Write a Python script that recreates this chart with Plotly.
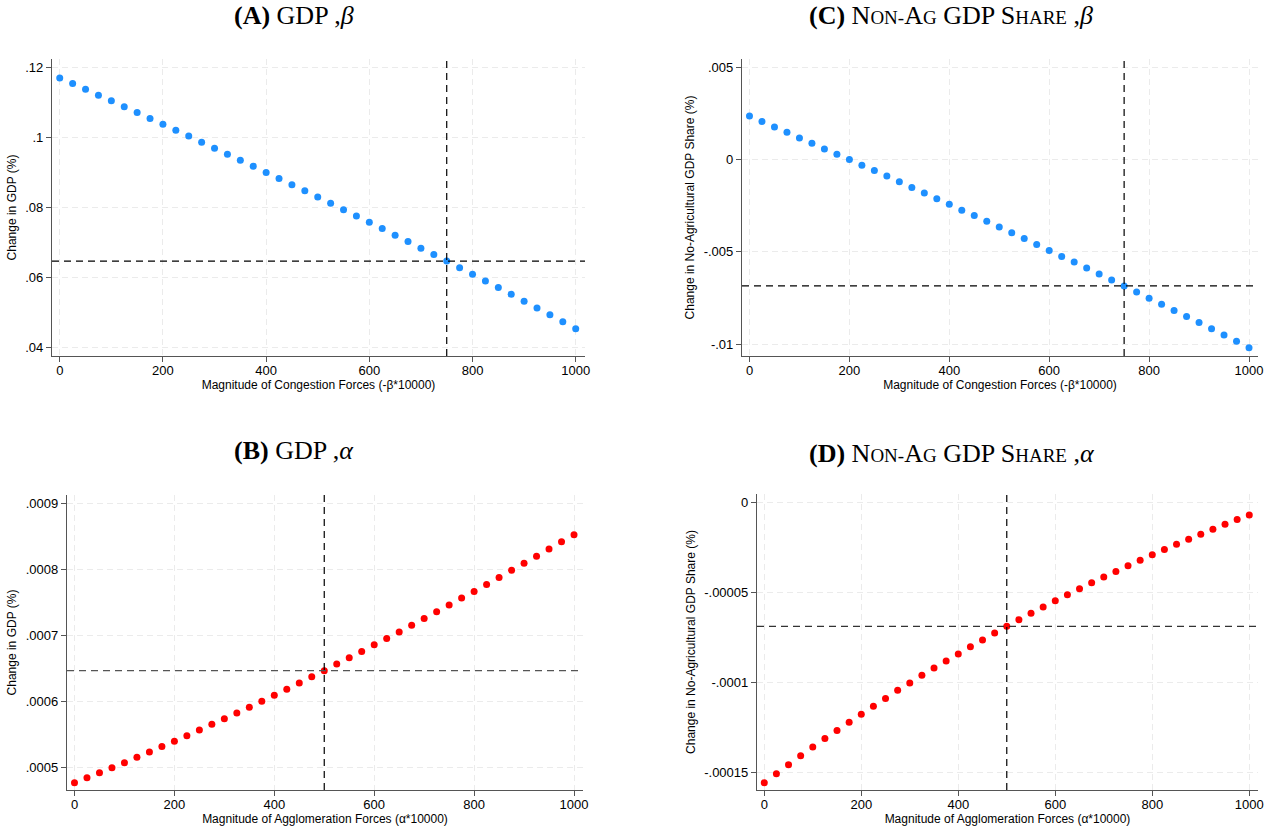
import plotly.graph_objects as go

# ---------------- data ----------------
x_vals = [0, 25, 50, 75, 100, 125, 150, 175, 200, 225, 250, 275, 300, 325, 350, 375, 400,
          425, 450, 475, 500, 525, 550, 575, 600, 625, 650, 675, 700, 725, 750, 775, 800,
          825, 850, 875, 900, 925, 950, 975, 1000]

gdp_beta = [0.11697, 0.11536, 0.11375, 0.11205, 0.11044, 0.10873, 0.10712, 0.10542,
            0.10372, 0.10201, 0.10040, 0.09860, 0.09690, 0.09520, 0.09349, 0.09179,
            0.08999, 0.08829, 0.08649, 0.08478, 0.08298, 0.08119, 0.07939, 0.07759,
            0.07579, 0.07399, 0.07210, 0.07030, 0.06840, 0.06661, 0.06471, 0.06282,
            0.06093, 0.05903, 0.05714, 0.05525, 0.05326, 0.05136, 0.04938, 0.04739,
            0.04540]

nonag_beta = [0.002356, 0.002068, 0.001763, 0.001475, 0.001169, 0.000881, 0.000575,
              0.000288, 0.000000, -0.000306, -0.000594, -0.000899, -0.001205, -0.001511,
              -0.001817, -0.002122, -0.002428, -0.002752, -0.003040, -0.003345, -0.003651,
              -0.003975, -0.004281, -0.004605, -0.004928, -0.005252, -0.005558, -0.005882,
              -0.006205, -0.006529, -0.006853, -0.007176, -0.007518, -0.007842, -0.008184,
              -0.008508, -0.008831, -0.009173, -0.009515, -0.009856, -0.010198]

gdp_alpha = [0.00047691, 0.00048444, 0.00049197, 0.00049950, 0.00050703, 0.00051556,
             0.00052359, 0.00053162, 0.00053965, 0.00054818, 0.00055671, 0.00056525,
             0.00057378, 0.00058231, 0.00059134, 0.00060038, 0.00060941, 0.00061845,
             0.00062798, 0.00063752, 0.00064655, 0.00065659, 0.00066612, 0.00067566,
             0.00068570, 0.00069523, 0.00070527, 0.00071531, 0.00072535, 0.00073589,
             0.00074592, 0.00075646, 0.00076650, 0.00077704, 0.00078758, 0.00079862,
             0.00080916, 0.00081970, 0.00083074, 0.00084178, 0.00085232]

nonag_alpha = [-1.5553e-4, -1.5055e-4, -1.4557e-4, -1.4059e-4, -1.3579e-4, -1.3100e-4,
               -1.2657e-4, -1.2195e-4, -1.1753e-4, -1.1310e-4, -1.0886e-4, -1.0424e-4,
               -1.0018e-4, -9.594e-5, -9.188e-5, -8.801e-5, -8.413e-5, -8.007e-5,
               -7.638e-5, -7.251e-5, -6.882e-5, -6.513e-5, -6.162e-5, -5.812e-5,
               -5.461e-5, -5.129e-5, -4.797e-5, -4.465e-5, -4.151e-5, -3.838e-5,
               -3.524e-5, -3.210e-5, -2.915e-5, -2.620e-5, -2.325e-5, -2.048e-5,
               -1.771e-5, -1.494e-5, -1.218e-5, -9.59e-6, -7.01e-6]

ref_beta = 750
ref_alpha = 500

x_ticks = [0, 200, 400, 600, 800, 1000]
x_tick_labels = ["0", "200", "400", "600", "800", "1000"]

gdp_beta_ticks = [0.04, 0.06, 0.08, 0.10, 0.12]
gdp_beta_labels = [".04", ".06", ".08", ".1", ".12"]
nonag_beta_ticks = [-0.01, -0.005, 0, 0.005]
nonag_beta_labels = ["-.01", "-.005", "0", ".005"]
gdp_alpha_ticks = [0.0005, 0.0006, 0.0007, 0.0008, 0.0009]
gdp_alpha_labels = [".0005", ".0006", ".0007", ".0008", ".0009"]
nonag_alpha_ticks = [-0.00015, -0.0001, -0.00005, 0]
nonag_alpha_labels = ["-.00015", "-.0001", "-.00005", "0"]

SANS = "Liberation Sans, Arial, sans-serif"
SERIF = "Liberation Serif, Times New Roman, serif"
BLUE = "#1E90FF"
RED = "#FF0000"

def sc(word, small=19):
    """small caps: first letter big, rest small uppercase"""
    return word[0] + '<span style="font-size:%dpx">%s</span>' % (small, word[1:].upper())

title_ag = sc("Non") + '<span style="font-size:19px">-</span>' + "A" + \
    '<span style="font-size:19px">G</span>' + " GDP " + sc("Share")

panels = [
    dict(y=gdp_beta, color=BLUE, ref=ref_beta,
         xdom=[52/1265, 585/1265], ydom=[1-356/831, 1-59/831],
         xr=[-15, 1018], yr=[0.03763, 0.12237],
         yt=gdp_beta_ticks, yl=gdp_beta_labels,
         ytitle="Change in GDP (%)",
         xtitle="Magnitude of Congestion Forces (-β*10000)",
         title="<b>(A)</b> GDP ,<i>β</i>", tx=294/1265, ty=1-15/831, hcol="#000000"),
    dict(y=nonag_beta, color=BLUE, ref=ref_beta,
         xdom=[742/1265, 1258/1265], ydom=[1-356/831, 1-59/831],
         xr=[-15, 1018], yr=[-0.01065, 0.00545],
         yt=nonag_beta_ticks, yl=nonag_beta_labels,
         ytitle="Change in No-Agricultural GDP Share (%)",
         xtitle="Magnitude of Congestion Forces (-β*10000)",
         title="<b>(C)</b> " + title_ag + " ,<i>β</i>", tx=951/1265, ty=1-15/831, hcol="#000000"),
    dict(y=gdp_alpha, color=RED, ref=ref_alpha,
         xdom=[67/1265, 583/1265], ydom=[1-790/831, 1-495/831],
         xr=[-15, 1018], yr=[0.0004659, 0.0009125],
         yt=gdp_alpha_ticks, yl=gdp_alpha_labels,
         ytitle="Change in GDP (%)",
         xtitle="Magnitude of Agglomeration Forces (α*10000)",
         title="<b>(B)</b> GDP ,<i>α</i>", tx=294/1265, ty=1-450/831, hcol="#555555"),
    dict(y=nonag_alpha, color=RED, ref=ref_alpha,
         xdom=[757/1265, 1258/1265], ydom=[1-790/831, 1-494/831],
         xr=[-15, 1018], yr=[-0.0001596, 0.0000046],
         yt=nonag_alpha_ticks, yl=nonag_alpha_labels,
         ytitle="Change in No-Agricultural GDP Share (%)",
         xtitle="Magnitude of Agglomeration Forces (α*10000)",
         title="<b>(D)</b> " + title_ag + " ,<i>α</i>", tx=952/1265, ty=1-454/831, hcol="#333333"),
]

fig = go.Figure()
shapes = []
annotations = []

axis_common = dict(
    showline=True, linecolor="#555555", linewidth=1.2,
    ticks="outside", ticklen=5, tickcolor="#555555", tickwidth=1,
    showgrid=True, gridcolor="#ebebeb", gridwidth=1, griddash="6px,4px",
    zeroline=False, automargin=False, ticklabeloverflow="allow",
    tickfont=dict(family=SANS, size=13, color="#000000"),
    title_font=dict(family=SANS, size=12, color="#000000"),
)

for i, p in enumerate(panels, start=1):
    xa = "x" if i == 1 else "x%d" % i
    ya = "y" if i == 1 else "y%d" % i
    fig.add_trace(go.Scatter(
        x=x_vals, y=p["y"], mode="markers", xaxis=xa, yaxis=ya,
        marker=dict(color=p["color"], size=7, line=dict(width=0)),
        showlegend=False, hoverinfo="x+y"))
    ref_y = p["y"][x_vals.index(p["ref"])]
    # vertical reference line
    shapes.append(dict(type="line", xref=xa, yref=ya + " domain",
                       x0=p["ref"], x1=p["ref"], y0=0, y1=1,
                       line=dict(color="#000000", width=1.2, dash="7px,5px"), layer="above"))
    # horizontal reference line
    shapes.append(dict(type="line", xref=xa + " domain", yref=ya,
                       x0=0, x1=1, y0=ref_y, y1=ref_y,
                       line=dict(color=p["hcol"], width=1.2, dash="7px,5px"), layer="above"))
    annotations.append(dict(text=p["title"], x=p["tx"], y=p["ty"], xref="paper", yref="paper",
                            xanchor="center", yanchor="middle", showarrow=False,
                            font=dict(family=SERIF, size=26, color="#000000")))
    xkey = "xaxis" if i == 1 else "xaxis%d" % i
    ykey = "yaxis" if i == 1 else "yaxis%d" % i
    fig.update_layout(**{
        xkey: dict(axis_common, domain=p["xdom"], range=p["xr"], anchor=ya,
                   tickmode="array", tickvals=x_ticks, ticktext=x_tick_labels,
                   ticklabelstandoff=-3,
                   title=dict(text=p["xtitle"], standoff=2)),
        ykey: dict(axis_common, domain=p["ydom"], range=p["yr"], anchor=xa,
                   tickmode="array", tickvals=p["yt"], ticktext=p["yl"],
                   title=dict(text=p["ytitle"], standoff=6)),
    })

fig.update_layout(
    width=1265, height=831,
    margin=dict(l=0, r=0, t=0, b=0),
    paper_bgcolor="#ffffff", plot_bgcolor="#ffffff",
    shapes=shapes, annotations=annotations,
    showlegend=False,
)

fig.write_html("out.html")
